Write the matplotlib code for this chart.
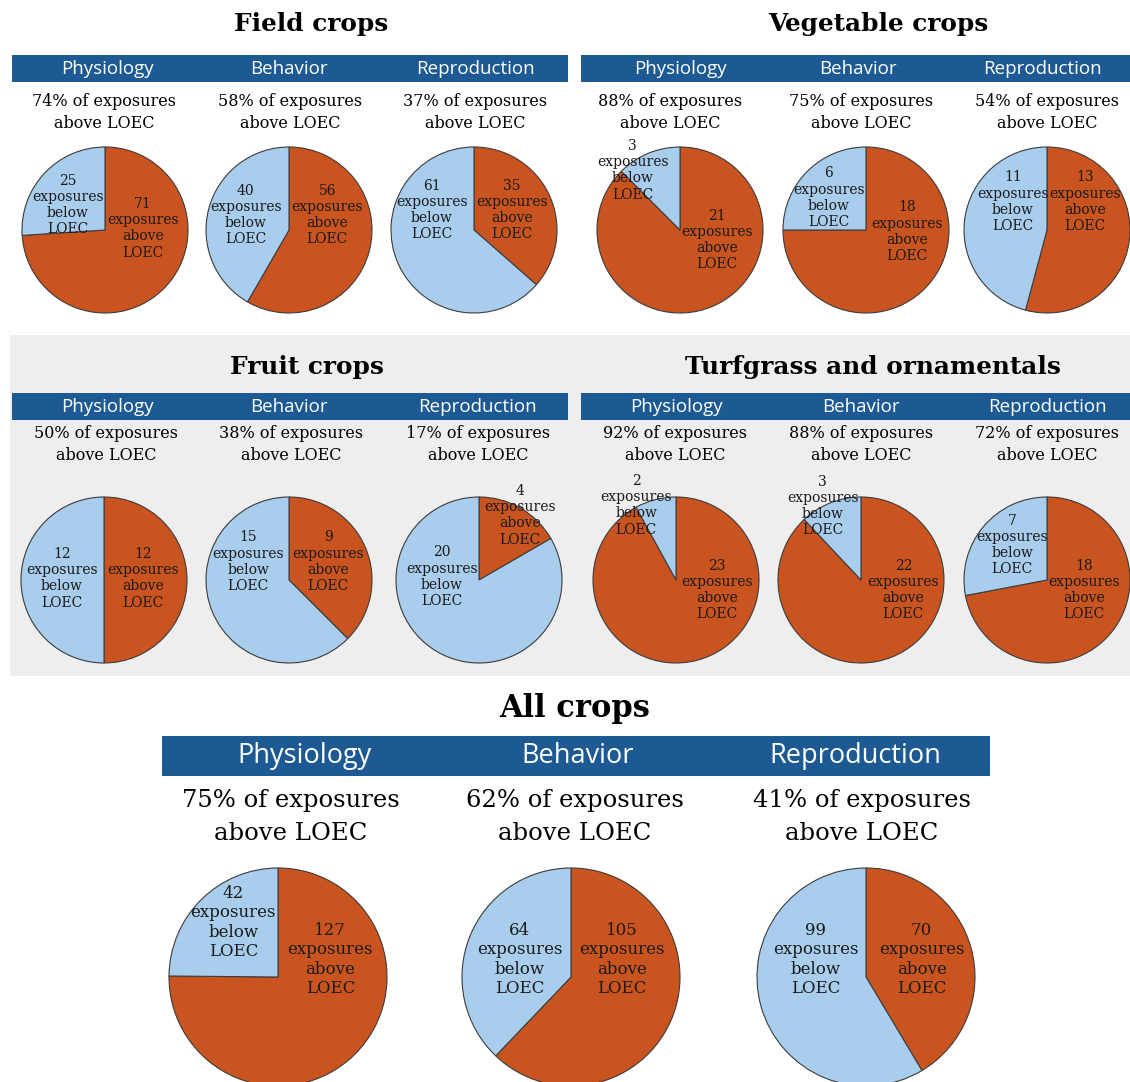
import matplotlib
matplotlib.use("Agg")
import matplotlib.pyplot as plt
from matplotlib.patches import Rectangle

# datos: exposiciones arriba / abajo del LOEC
endpoints = ["Physiology", "Behavior", "Reproduction"]
grupos = ["Field crops", "Vegetable crops", "Fruit crops", "Turfgrass and ornamentals", "All crops"]

field_above = [71, 56, 35]
field_below = [25, 40, 61]
field_pct = [74, 58, 37]

veg_above = [21, 18, 13]
veg_below = [3, 6, 11]
veg_pct = [88, 75, 54]

fruit_above = [12, 9, 4]
fruit_below = [12, 15, 20]
fruit_pct = [50, 38, 17]

turf_above = [23, 22, 18]
turf_below = [2, 3, 7]
turf_pct = [92, 88, 72]

all_above = [127, 105, 70]
all_below = [42, 64, 99]
all_pct = [75, 62, 41]

datos = [
    (field_above, field_below, field_pct),
    (veg_above, veg_below, veg_pct),
    (fruit_above, fruit_below, fruit_pct),
    (turf_above, turf_below, turf_pct),
    (all_above, all_below, all_pct),
]

# colores
NARANJA = "#C9541F"
AZUL_CLARO = "#A9CDED"
AZUL_BARRA = "#1D5A94"
GRIS = "#EEEEEE"

W, H = 1130, 1082  # pixeles
SERIF = "DejaVu Serif"
SANS = "Open Sans"

# layout de cada bloque (en pixeles)
layout = [
    dict(title=(311, 24), bar=(12, 568, 55, 82), cx=[105, 289, 474], cy=230, r=83, ty=(101, 123),
         tx=[104, 290, 475], tsize=17.8, hsize=13.5, asize=11.5, lsize=10,
         off_b=[(-0.45, 0.30), (-0.52, 0.18), (-0.51, 0.24)],
         off_a=[(0.46, 0.02), (0.46, 0.18), (0.46, 0.24)]),
    dict(title=(878, 24), bar=(581, 1130, 55, 82), cx=[680, 866, 1047], cy=230, r=83, ty=(102, 124),
         tx=[670, 861, 1047], tsize=17.8, hsize=13.5, asize=11.5, lsize=10,
         off_b=[(-0.57, 0.72), (-0.45, 0.39), (-0.41, 0.34)],
         off_a=[(0.45, -0.12), (0.49, -0.02), (0.46, 0.34)]),
    dict(title=(307, 367), bar=(12, 568, 393, 420), cx=[104, 289, 479], cy=580, r=83, ty=(434, 455),
         tx=[106, 291, 478], tsize=17.8, hsize=13.5, asize=11.5, lsize=10,
         off_b=[(-0.51, 0.02), (-0.49, 0.22), (-0.45, 0.04)],
         off_a=[(0.47, 0.02), (0.47, 0.22), (0.49, 0.78)]),
    dict(title=(873, 367), bar=(581, 1130, 393, 420), cx=[676, 861, 1047], cy=580, r=83, ty=(434, 455),
         tx=[675, 861, 1047], tsize=17.8, hsize=13.5, asize=11.5, lsize=10,
         off_b=[(-0.48, 0.90), (-0.46, 0.89), (-0.42, 0.42)],
         off_a=[(0.49, -0.12), (0.51, -0.12), (0.45, -0.12)]),
    dict(title=(575, 708), bar=(162, 990, 736, 776), cx=[278, 571, 866], cy=977, r=109, ty=(801, 833),
         tx=[291, 575, 862], tsize=22, hsize=19.5, asize=17.5, lsize=12,
         off_b=[(-0.41, 0.50), (-0.47, 0.16), (-0.46, 0.16)],
         off_a=[(0.48, 0.16), (0.47, 0.16), (0.51, 0.16)]),
]
header_x = [
    [107, 289, 475],
    [680, 858, 1042],
    [107, 289, 477],
    [676, 861, 1047],
    [305, 578, 855],
]


def fx(x):
    return x / W


def fy(y):
    return 1 - y / H


fig = plt.figure(figsize=(W / 100, H / 100), dpi=100)
fig.patch.set_facecolor("white")

# banda gris del medio (detras de los pies)
fig.patches.append(Rectangle((fx(10), fy(676)), fx(1130) - fx(10), fy(335) - fy(676),
                             transform=fig.transFigure, facecolor=GRIS, edgecolor="none", zorder=-2))

for g, (nombre, (above, below, pct), lay) in enumerate(zip(grupos, datos, layout)):
    # titulo del bloque
    fig.text(fx(lay["title"][0]), fy(lay["title"][1]), nombre, family=SERIF, weight="bold",
             fontsize=lay["tsize"], ha="center", va="center")
    # barra azul con los endpoints
    x0, x1, y0, y1 = lay["bar"]
    fig.patches.append(Rectangle((fx(x0), fy(y1)), fx(x1) - fx(x0), fy(y0) - fy(y1),
                                 transform=fig.transFigure, facecolor=AZUL_BARRA, edgecolor="none", zorder=-1))
    ymid = (y0 + y1) / 2
    for i, ep in enumerate(endpoints):
        fig.text(fx(header_x[g][i]), fy(ymid), ep, family=SANS, color="white", fontsize=lay["hsize"],
                 ha="center", va="center")
        tx = lay["tx"][i]
        fig.text(fx(tx), fy(lay["ty"][0]), f"{pct[i]}% of exposures", family=SERIF,
                 fontsize=lay["asize"], ha="center", va="center")
        fig.text(fx(tx), fy(lay["ty"][1]), "above LOEC", family=SERIF,
                 fontsize=lay["asize"], ha="center", va="center")

        # pie: naranja (arriba) empieza a las 12 en sentido horario
        r = lay["r"]
        cx, cy = lay["cx"][i], lay["cy"]
        ax = fig.add_axes([fx(cx - r), fy(cy + r), 2 * r / W, 2 * r / H])
        ax.pie([above[i], below[i]], colors=[NARANJA, AZUL_CLARO], startangle=90, counterclock=False,
               radius=1, wedgeprops=dict(edgecolor="#3c3c3c", linewidth=0.8))
        ax.set_xlim(-1, 1)
        ax.set_ylim(-1, 1)
        ax.set_aspect("equal")
        ax.axis("off")
        bx, by = lay["off_b"][i]
        ax.text(bx, by, f"{below[i]}\nexposures\nbelow\nLOEC", family=SERIF, fontsize=lay["lsize"],
                ha="center", va="center", linespacing=1.2, color="#1a1a1a", clip_on=False)
        axx, ayy = lay["off_a"][i]
        ax.text(axx, ayy, f"{above[i]}\nexposures\nabove\nLOEC", family=SERIF, fontsize=lay["lsize"],
                ha="center", va="center", linespacing=1.2, color="#1a1a1a", clip_on=False)

fig.savefig("out.png", dpi=100)
